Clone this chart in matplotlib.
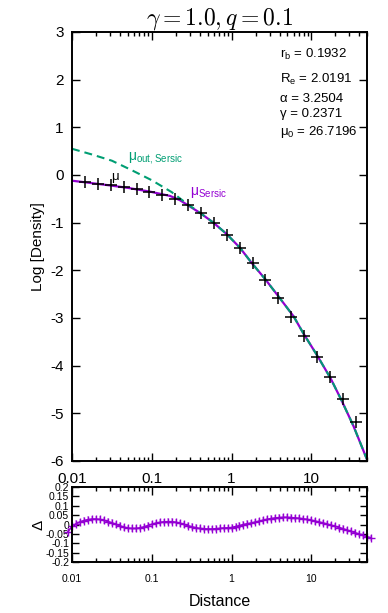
import numpy as np
import matplotlib
matplotlib.use('Agg')
import matplotlib.pyplot as plt
from matplotlib.ticker import FixedLocator, FixedFormatter, LogLocator, NullFormatter

plt.rcParams['font.family'] = ['Liberation Sans', 'DejaVu Sans']
plt.rcParams['axes.unicode_minus'] = False

PURPLE = '#9400d3'
GREEN = '#009e73'
LIGHT = '#dca6f2'

# measured profile (black crosses)
dist = [0.01455, 0.02113, 0.03062, 0.04446, 0.06442, 0.09354, 0.1358, 0.1968,
        0.2858, 0.4140, 0.6012, 0.8730, 1.265, 1.837, 2.661, 3.864, 5.610,
        8.128, 11.80, 17.10, 24.83, 36.06]
logdens = [-0.15, -0.18, -0.22, -0.26, -0.30, -0.35, -0.42, -0.51,
           -0.63, -0.80, -1.01, -1.26, -1.53, -1.85, -2.21, -2.58, -2.97,
           -3.37, -3.81, -4.24, -4.69, -5.18]

# core-Sersic fit (purple)
fit_r = [0.01, 0.0158, 0.0302, 0.0501, 0.0955, 0.170, 0.226, 0.275, 0.407,
         0.593, 0.871, 1.28, 1.80, 2.63, 3.89, 6.03, 7.94, 11.7, 17.4,
         24.0, 33.9, 50.0]
fit_y = [-0.12, -0.16, -0.22, -0.27, -0.35, -0.44, -0.53, -0.62, -0.80,
         -1.00, -1.24, -1.53, -1.85, -2.18, -2.55, -2.97, -3.32, -3.77, -4.26,
         -4.73, -5.27, -5.97]

# outer Sersic (green dashed)
out_r = [0.01, 0.0178, 0.0316, 0.0562, 0.100, 0.178, 0.275, 0.407, 0.593,
         0.871, 1.28, 1.80, 2.63, 3.89, 6.03, 7.94, 11.7, 17.4, 24.0, 33.9, 50.0]
out_y = [0.55, 0.43, 0.30, 0.10, -0.11, -0.36, -0.60, -0.80, -1.00, -1.24,
         -1.53, -1.85, -2.18, -2.55, -2.97, -3.32, -3.77, -4.26, -4.73, -5.27,
         -5.97]

# residuals
resid_logr = [-2.05, -2.0, -1.95, -1.9, -1.85, -1.8, -1.75, -1.7, -1.65, -1.6,
              -1.55, -1.5, -1.45, -1.4, -1.35, -1.3, -1.25, -1.2, -1.15, -1.1,
              -1.05, -1.0, -0.95, -0.9, -0.85, -0.8, -0.75, -0.7, -0.65, -0.6,
              -0.55, -0.5, -0.45, -0.4, -0.35, -0.3, -0.25, -0.2, -0.15, -0.1,
              -0.05, 0.0, 0.05, 0.1, 0.15, 0.2, 0.25, 0.3, 0.35, 0.4,
              0.45, 0.5, 0.55, 0.6, 0.65, 0.7, 0.75, 0.8, 0.85, 0.9,
              0.95, 1.0, 1.05, 1.1, 1.15, 1.2, 1.25, 1.3, 1.35, 1.4,
              1.45, 1.5, 1.55, 1.6, 1.65, 1.7, 1.75]
resid = [-0.038, -0.010, 0.004, 0.014, 0.021, 0.026, 0.029, 0.029, 0.027, 0.022,
         0.016, 0.009, 0.001, -0.007, -0.014, -0.019, -0.021, -0.021, -0.018, -0.013,
         -0.006, 0.001, 0.007, 0.011, 0.014, 0.015, 0.015, 0.012, 0.007, 0.001,
         -0.006, -0.012, -0.017, -0.021, -0.023, -0.024, -0.024, -0.023, -0.021, -0.019,
         -0.018, -0.016, -0.011, -0.006, 0.000, 0.004, 0.008, 0.013, 0.018, 0.023,
         0.028, 0.032, 0.035, 0.037, 0.038, 0.038, 0.037, 0.035, 0.033, 0.030,
         0.027, 0.023, 0.018, 0.013, 0.008, 0.002, -0.004, -0.010, -0.016, -0.023,
         -0.030, -0.037, -0.044, -0.051, -0.058, -0.065, -0.072]
resid_err = 0.018

params = [r'r$_\mathregular{b}$ = 0.1932', r'R$_\mathregular{e}$ = 2.0191',
          'α = 3.2504', 'γ = 0.2371', r'μ$_\mathregular{0}$ = 26.7196']
params_y = [0.9387, 0.8818, 0.8375, 0.8026, 0.7599]

xticks = [0.01, 0.1, 1, 10]
xlabels = ['0.01', '0.1', '1', '10']


def style_axes(ax):
    ax.set_xscale('log')
    ax.set_xlim(0.01, 50)
    ax.xaxis.set_major_locator(FixedLocator(xticks))
    ax.xaxis.set_major_formatter(FixedFormatter(xlabels))
    ax.xaxis.set_minor_locator(LogLocator(base=10, subs=np.arange(2, 10)))
    ax.xaxis.set_minor_formatter(NullFormatter())
    ax.tick_params(which='both', direction='in', top=True, right=True, width=1)
    ax.tick_params(which='major', length=6)
    ax.tick_params(which='minor', length=3)
    for s in ax.spines.values():
        s.set_linewidth(1.4)


fig = plt.figure(figsize=(3.88, 6.13), dpi=100)
ax = fig.add_axes([0.1856, 0.2480, 0.7603, 0.6998])
res = fig.add_axes([0.1856, 0.0832, 0.7603, 0.1223])

style_axes(ax)
ax.set_ylim(-6, 3)
ax.set_yticks(np.arange(-6, 4, 1))
ax.tick_params(axis='both', labelsize=11, pad=6)
ax.tick_params(axis='x', pad=8)
ax.plot(fit_r, fit_y, color=PURPLE, lw=1.6)
ax.plot(out_r, out_y, color=GREEN, lw=1.5, dashes=[3.8, 2.4])
ax.plot(dist, logdens, ls='none', marker='+', color='black', ms=8, mew=1.1)
ax.set_ylabel('Log [Density]', fontsize=11, labelpad=4)
ax.set_title(r'$\gamma = 1.0, q = 0.1$', fontsize=17, math_fontfamily='cm', pad=4)

ax.text(0.0505, 0.31, r'μ$_\mathregular{out,Sersic}$', color=GREEN, fontsize=10)
ax.text(0.303, -0.41, r'μ$_\mathregular{Sersic}$', color=PURPLE, fontsize=10)
ax.text(0.031, -0.10, 'μ', color='black', fontsize=9.5)
for t, y in zip(params, params_y):
    ax.text(0.705, y, t, transform=ax.transAxes, fontsize=9.5)

style_axes(res)
res.set_ylim(-0.2, 0.2)
res.set_yticks(np.arange(-0.2, 0.21, 0.05))
res.set_yticklabels(['-0.2', '-0.15', '-0.1', '-0.05', '0', '0.05', '0.1', '0.15', '0.2'])
res.tick_params(axis='y', labelsize=7.5, pad=2, length=5)
res.tick_params(axis='x', labelsize=7.5, pad=9)
rr = 10 ** np.array(resid_logr)
res.errorbar(rr, resid, yerr=resid_err, fmt='none', ecolor=LIGHT, elinewidth=1.2,
             clip_on=False)
res.plot(rr, resid, color=PURPLE, lw=1.2, marker='+', ms=6, mew=1.0, clip_on=False)
res.set_ylabel('Δ', fontsize=11, labelpad=0)
res.set_xlabel('Distance', fontsize=11.5, labelpad=7)

fig.savefig('out.png', dpi=100)
